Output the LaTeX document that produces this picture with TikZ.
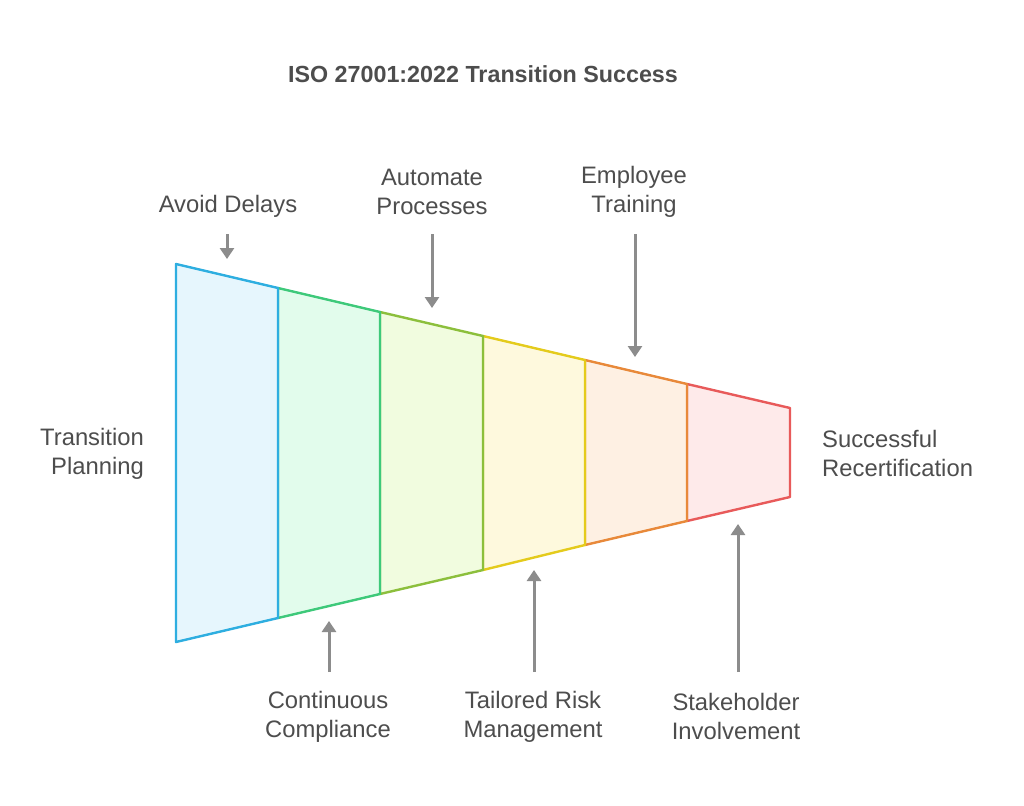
\documentclass[tikz,border=0pt]{standalone}
\usepackage{fontspec}
\setmainfont{Liberation Sans}
\usetikzlibrary{arrows.meta}
\definecolor{txt}{HTML}{4D4D4D}
\definecolor{arr}{HTML}{8C8C8C}
\definecolor{s1}{HTML}{2EAEE0}\definecolor{f1}{HTML}{E6F6FD}
\definecolor{s2}{HTML}{3EC97A}\definecolor{f2}{HTML}{E2FCEC}
\definecolor{s3}{HTML}{8CBF3C}\definecolor{f3}{HTML}{F1FCDF}
\definecolor{s4}{HTML}{E4CB1C}\definecolor{f4}{HTML}{FEF9DD}
\definecolor{s5}{HTML}{E8893A}\definecolor{f5}{HTML}{FEF0E3}
\definecolor{s6}{HTML}{E85A5A}\definecolor{f6}{HTML}{FEEAEA}
\tikzset{
  lbl/.style={text=txt,font=\fontsize{23.8}{29}\selectfont,align=center,inner sep=0pt},
  lblr/.style={lbl,align=right},
  lbll/.style={lbl,align=left},
  ttl/.style={text=txt,font=\fontsize{23.3}{28}\selectfont\bfseries,inner sep=0pt},
  pointer/.style={draw=arr,line width=3pt,-{Triangle[length=11pt,width=14pt]}},
  seg/.style={line width=2.4pt,line join=round}
}
\begin{document}
\begin{tikzpicture}[x=1pt,y=-1pt]
\useasboundingbox[fill=white] (0,0) rectangle (1024,805);
% segment corners
\coordinate (t0) at (176,264); \coordinate (b0) at (176,642);
\coordinate (t1) at (278,288); \coordinate (b1) at (278,618);
\coordinate (t2) at (380,312); \coordinate (b2) at (380,594);
\coordinate (t3) at (483,336); \coordinate (b3) at (483,570);
\coordinate (t4) at (585,360); \coordinate (b4) at (585,545);
\coordinate (t5) at (687,384); \coordinate (b5) at (687,521);
\coordinate (t6) at (790,408); \coordinate (b6) at (790,497);
% fills and outlines, right to left
\draw[seg,draw=s6,fill=f6] (t5)--(t6)--(b6)--(b5)--cycle;
\draw[seg,draw=s5,fill=f5] (t4)--(t5)--(b5)--(b4)--cycle;
\draw[seg,draw=s4,fill=f4] (t3)--(t4)--(b4)--(b3)--cycle;
\draw[seg,draw=s3,fill=f3] (t2)--(t3)--(b3)--(b2)--cycle;
\draw[seg,draw=s2,fill=f2] (t1)--(t2)--(b2)--(b1)--cycle;
\draw[seg,draw=s1,fill=f1] (t0)--(t1)--(b1)--(b0)--cycle;
% title
\node[ttl] (title) at (483,74) {ISO 27001:2022 Transition Success};
% labels
\node[lbl] (avoid) at (228,206) {Avoid Delays};
\node[lbl] (auto) at (432,191.5) {Automate\\Processes};
\node[lbl] (emp) at (634,191.5) {Employee\\Training};
\node[lblr,anchor=east] (plan) at (144,453.5) {Transition\\Planning};
\node[lbll,anchor=west] (succ) at (822,453.5) {Successful\\Recertification};
\node[lbl] (cont) at (328,716.5) {Continuous\\Compliance};
\node[lbl] (risk) at (533,716.5) {Tailored Risk\\Management};
\node[lbl] (stake) at (736,716.5) {Stakeholder\\Involvement};
% pointer coordinates
\coordinate (a1s) at (227,234); \coordinate (a1e) at (227,259);
\coordinate (a2s) at (432,234); \coordinate (a2e) at (432,308);
\coordinate (a3s) at (635,234); \coordinate (a3e) at (635,357);
\coordinate (a4s) at (329,672); \coordinate (a4e) at (329,621);
\coordinate (a5s) at (534,672); \coordinate (a5e) at (534,570);
\coordinate (a6s) at (738,672); \coordinate (a6e) at (738,524);
\draw[pointer] (a1s) -- (a1e);
\draw[pointer] (a2s) -- (a2e);
\draw[pointer] (a3s) -- (a3e);
\draw[pointer] (a4s) -- (a4e);
\draw[pointer] (a5s) -- (a5e);
\draw[pointer] (a6s) -- (a6e);
\end{tikzpicture}
\end{document}
